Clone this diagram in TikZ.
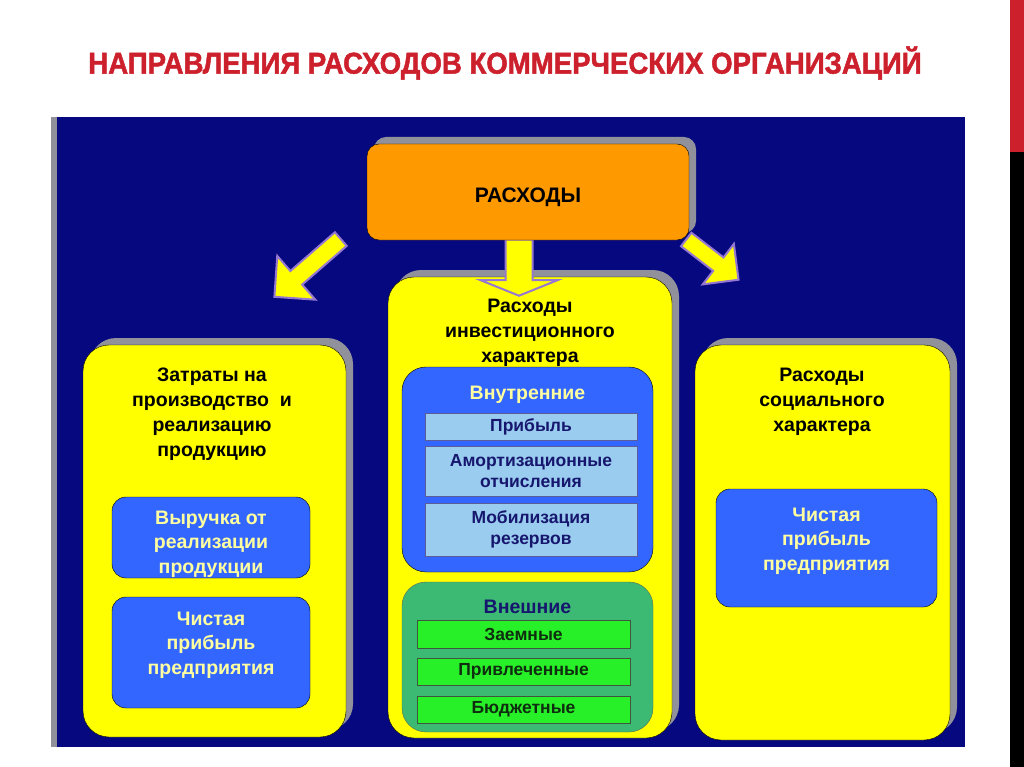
\documentclass[tikz,border=0pt]{standalone}
\usepackage{fontspec}
\setmainfont{Liberation Sans}
\newfontfamily\titlefont[FakeStretch=0.92, FakeBold=1.6]{Liberation Sans}
\definecolor{navy1}{RGB}{6, 8, 128}
\definecolor{red1}{RGB}{205, 32, 45}
\definecolor{yellow1}{RGB}{255, 255, 0}
\definecolor{orange1}{RGB}{255, 153, 0}
\definecolor{blue1}{RGB}{51, 102, 255}
\definecolor{paleyellow1}{RGB}{255, 255, 160}
\definecolor{lightblue1}{RGB}{153, 204, 238}
\definecolor{darkblue1}{RGB}{22, 22, 110}
\definecolor{seagreen1}{RGB}{60, 185, 115}
\definecolor{green1}{RGB}{40, 240, 40}
\definecolor{darkgreen1}{RGB}{15, 45, 15}
\definecolor{gray1}{RGB}{145, 145, 155}
\definecolor{lavender1}{RGB}{150, 120, 210}
\usetikzlibrary{shapes, arrows.meta, positioning, calc, shadows}

\tikzset{
  shade1/.style={drop shadow={shadow xshift=7pt, shadow yshift=7pt, fill=gray1, opacity=1}},
  card/.style={draw=black, fill=yellow1, rounded corners=26pt, shade1},
  cardtext/.style={align=center, font=\fontsize{19.5}{25}\selectfont\bfseries, text=black},
  bluebox/.style={draw=black, fill=blue1, rounded corners=14pt, minimum width=198pt},
  bluetext/.style={align=center, font=\fontsize{19.5}{24.5}\selectfont\bfseries, text=paleyellow1},
  rowbox/.style={draw=darkblue1!70, fill=lightblue1, minimum width=212pt, align=center,
    font=\fontsize{17.5}{20.5}\selectfont\bfseries, text=darkblue1},
  greenrow/.style={draw=darkgreen1!80, fill=green1, minimum width=213pt, minimum height=27pt,
    font=\fontsize{17.5}{20.5}\selectfont\bfseries, text=darkgreen1},
  arrowblock/.style={single arrow, draw=lavender1, fill=yellow1, line width=2pt, inner xsep=0pt}
}

\begin{document}
\begin{tikzpicture}[x=1pt, y=-1pt]
  \useasboundingbox (0,0) rectangle (1024,767);
  \fill[white] (0,0) rectangle (1024,767);

  \fill[red1] (1010,0) rectangle (1024,152);
  \fill[black] (1010,152) rectangle (1024,767);
  \fill[gray1] (51,117) rectangle (57,747);
  \fill[navy1] (57,117) rectangle (965,747);

  \node[font=\titlefont\fontsize{30}{32}\selectfont\bfseries, text=red1] (heading) at (505,63)
    {НАПРАВЛЕНИЯ РАСХОДОВ КОММЕРЧЕСКИХ ОРГАНИЗАЦИЙ};

  % three main cards
  \node[card, minimum width=263pt, minimum height=392pt] (prod) at (214.5,541) {};
  \node[card, minimum width=284pt, minimum height=461pt] (invest) at (530,507.5) {};
  \node[card, minimum width=255pt, minimum height=395pt] (social) at (822.5,542.5) {};

  \node[cardtext] (prodtitle) at (212,414) {Затраты на\\производство\ \ и\\реализацию\\продукцию};
  \node[cardtext] (investtitle) at (530,333) {Расходы\\инвестиционного\\характера};
  \node[cardtext] (socialtitle) at (822,402) {Расходы\\социального\\характера};

  \node[bluebox, minimum height=81pt] (revenue) at (211,537.5) {};
  \node[bluetext] (revenuetext) at (211,544) {Выручка от\\реализации\\продукции};
  \node[bluebox, minimum height=111pt] (netprof) at (211,652.5) {};
  \node[bluetext] (netproftext) at (211,645) {Чистая\\прибыль\\предприятия};
  \node[bluebox, minimum width=221pt, minimum height=118pt] (socprof) at (826.5,548) {};
  \node[bluetext] (socproftext) at (826.5,541) {Чистая\\прибыль\\предприятия};

  % internal and external sources
  \node[draw=black, fill=blue1, rounded corners=24pt, minimum width=251pt, minimum height=205pt] (inner) at (527.5,469.5) {};
  \node[bluetext] (innertitle) at (527.5,395) {Внутренние};
  \node[rowbox, minimum height=27pt] (pribyl) at (531,426.5) {Прибыль};
  \node[rowbox, minimum height=50pt] (amort) at (531,471) {Амортизационные\\отчисления};
  \node[rowbox, minimum height=53pt] (mobil) at (531,529.5) {Мобилизация\\резервов};

  \node[draw=darkgreen1!70, fill=seagreen1, rounded corners=24pt, minimum width=251pt, minimum height=150pt] (outer) at (527.5,657) {};
  \node[bluetext, text=darkblue1] (outertitle) at (527.5,607) {Внешние};
  \node[greenrow, minimum height=28pt] (zaem) at (523.5,634) {Заемные};
  \node[greenrow] (privl) at (523.5,671.5) {Привлеченные};
  \node[greenrow] (budget) at (523.5,709.5) {Бюджетные};

  % arrows
  \node[arrowblock, inner ysep=8pt, single arrow head extend=20pt, minimum height=88pt, rotate=221] (arrleft) at (311,265) {};
  \node[arrowblock, inner ysep=12.5pt, single arrow head extend=25pt, single arrow tip angle=136, minimum height=56pt, rotate=-90] (arrmid) at (519,265) {};
  \node[arrowblock, inner ysep=7.5pt, single arrow head extend=17pt, minimum height=66pt, rotate=-37.6] (arrright) at (709,257) {};

  \node[draw=black, fill=orange1, rounded corners=12pt, shade1, minimum width=322pt, minimum height=96pt,
    text height=25pt, font=\fontsize{21}{24}\selectfont\bfseries] (rashody) at (528,192) {РАСХОДЫ};
\end{tikzpicture}
\end{document}
